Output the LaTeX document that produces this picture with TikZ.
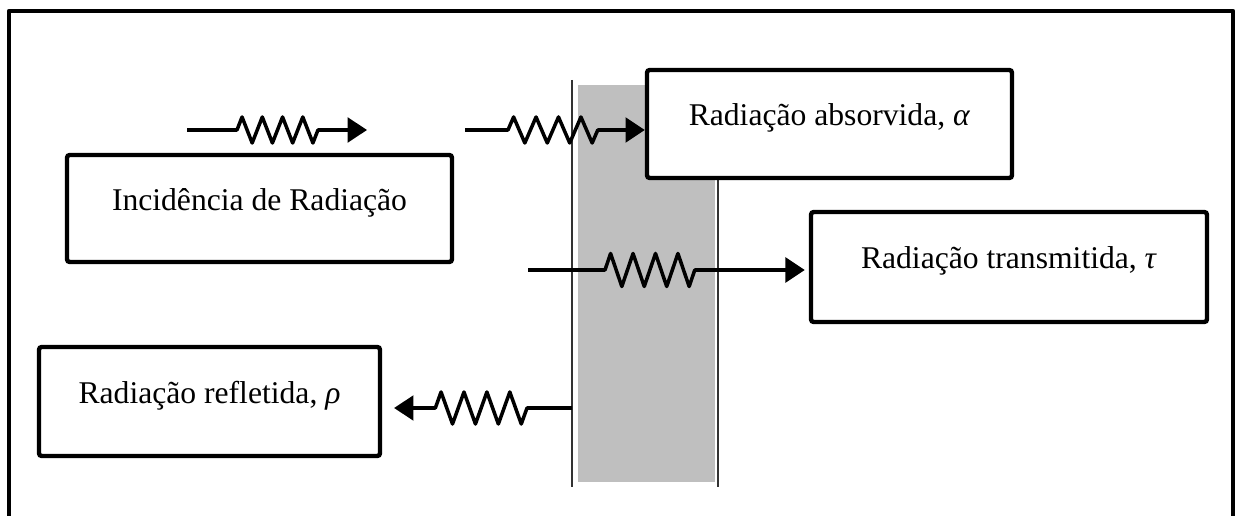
\documentclass[tikz,border=0pt]{standalone}
\usepackage{fontspec}
\setmainfont{Liberation Serif}
\usetikzlibrary{arrows.meta,positioning,decorations.pathmorphing}
\tikzset{
  lblbox/.style={draw,rectangle,rounded corners=1.5pt,line width=2.5pt,fill=white,
    font=\fontsize{18}{22}\selectfont,text height=0.6em,text depth=0.4em,align=center},
  frame/.style={line width=2.6pt,line join=round},
  slabfill/.style={fill=black!25},
  slabline/.style={draw=black!80,line width=1.1pt},
  ray/.style={-{Triangle[length=11pt,width=14pt]},line width=2pt,line join=round,decorate},
  wave/.style={decoration={zigzag,amplitude=#1,segment length=0.449cm,
    pre length=0.86cm,post length=0.94cm}}
}

\begin{document}
\begin{tikzpicture}[x=0.02cm,y=-0.02cm]
  \useasboundingbox (0,0) rectangle (1238,516);
  % Outer frame (open at the bottom)
  \draw[frame] (9,525) -- (9,11) -- (1233,11) -- (1233,525);

  % Slab
  \fill[slabfill] (578,85) rectangle (715,482);
  \draw[slabline] (572,80) -- (572,487);
  \draw[slabline] (718,80) -- (718,487);

  % Label boxes
  \node[lblbox, minimum width=7.7cm, minimum height=2.14cm] (incid) at (259.5,208.5) {Incidência de Radiação};
  \node[lblbox, minimum width=7.3cm, minimum height=2.16cm] (absorb) at (829.5,124) {Radiação absorvida, \textit{α}};
  \node[lblbox, minimum width=7.92cm, minimum height=2.2cm] (transm) at (1009,267) {Radiação transmitida, \textit{τ}};
  \node[lblbox, minimum width=6.82cm, minimum height=2.18cm] (reflect) at (209.5,401.5) {Radiação refletida, \textit{ρ}};

  % Ray ends
  \coordinate (incS) at (187,130);
  \coordinate (incE) at (367,130);
  \coordinate (absS) at (465,130);
  \coordinate (trnS) at (528,270);
  \coordinate (refS) at (572,408);

  % Rays
  \draw[ray, wave=0.26cm, decoration={segment length=0.405cm,pre length=1.0cm}] (incS) -- (incE);
  \draw[ray, wave=0.26cm] (absS) -- (absS -| absorb.west);
  \draw[ray, wave=0.33cm, decoration={pre length=1.54cm,post length=2.28cm}, shorten >=2.3pt] (trnS) -- (trnS -| transm.west);
  \draw[ray, wave=0.32cm, decoration={segment length=0.4585cm,pre length=0.9cm,post length=1.06cm}, shorten >=6.8pt] (refS) -- (refS -| reflect.east);

\end{tikzpicture}
\end{document}
